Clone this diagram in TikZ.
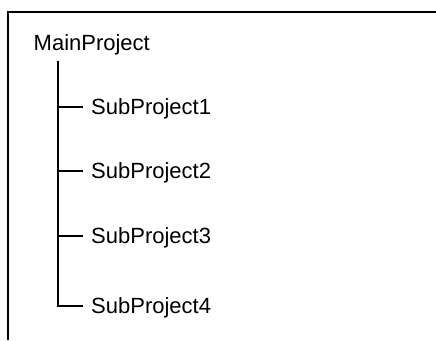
\documentclass[tikz,border=0pt]{standalone}
\usepackage{fontspec}
\setmainfont{Liberation Sans}
\usetikzlibrary{positioning}
\tikzstyle{frame} = [black, line width=2pt]
\tikzstyle{branch} = [black, line width=1.7pt]
\tikzstyle{project} = [font=\fontsize{22}{26}\selectfont, inner sep=0pt]
\tikzstyle{subproject} = [project, anchor=west, inner xsep=8pt, text height=15.8pt, text depth=0pt]

\begin{document}
\begin{tikzpicture}
      \useasboundingbox (0,0) rectangle (436pt,340pt);
      % outer frame, open to the right and bottom
      \draw[frame] (436pt,328pt) -- (8pt,328pt) -- (8pt,0pt);

      \node[project, anchor=base west] (main) at (33.5pt,289pt) {MainProject};
      \coordinate (trunk) at (58pt,279pt);

      \node[subproject] (sub1) at (83pt,233pt) {SubProject1};
      \node[subproject] (sub2) at (83pt,169pt) {SubProject2};
      \node[subproject] (sub3) at (83pt,104pt) {SubProject3};
      \node[subproject] (sub4) at (83pt,34pt) {SubProject4};

      % tree lines
      \draw[branch] (trunk) |- (sub4.west);
      \foreach \s in {sub1,sub2,sub3}
        \draw[branch] (trunk |- \s.west) -- (\s.west);
    \end{tikzpicture}
\end{document}
